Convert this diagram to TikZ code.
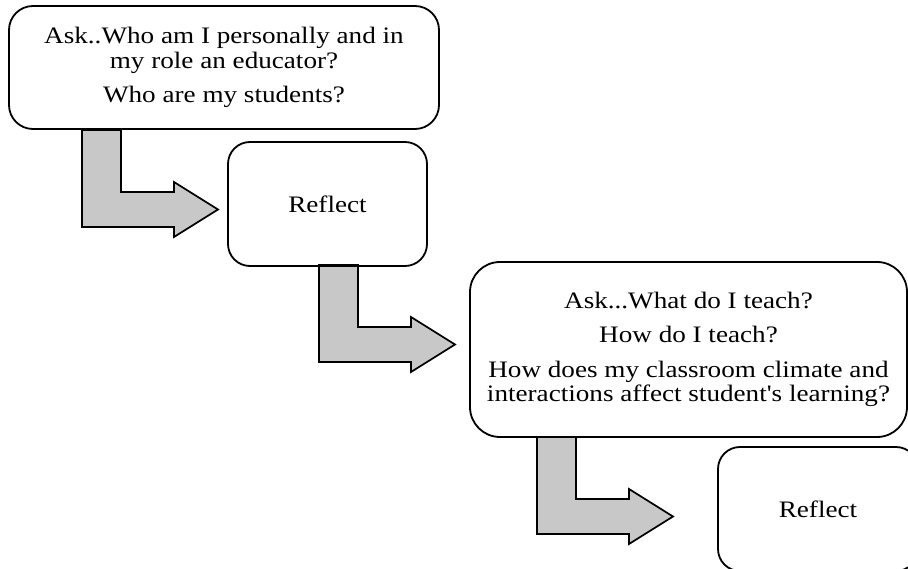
\documentclass[tikz,border=0pt]{standalone}
\usepackage{fontspec}
\setmainfont{Liberation Serif}[FakeStretch=1.15, Ligatures=TeXOff]
\usepackage{xcolor}
\usepackage{tikz}
\usetikzlibrary{positioning,calc}

\definecolor{arrowgray}{RGB}{200,200,200}

\begin{document}
\begin{tikzpicture}[x=1pt, y=-1pt,
    box/.style={rectangle, draw, line width=1.8pt, rounded corners=24pt, align=center,
        inner sep=0pt, font=\fontsize{23.6}{24.5}\selectfont},
    elbow/.pic={
        \draw[line width=1.7pt, fill=arrowgray, line join=miter]
            (0,0) -- (39,0) -- (39,62) -- (92,62) -- (92,52) -- (136,79.5)
            -- (92,107) -- (92,97) -- (0,97) -- cycle;
    }]

    \useasboundingbox (0,0) rectangle (908,569);
    \clip (0,0) rectangle (908,569);

    % arrows first, boxes on top
    \pic at (82,130) {elbow};
    \pic at (319,265) {elbow};
    \pic at (537,437) {elbow};

    \node[box, minimum width=430pt, minimum height=123pt] (who) at (224,67.5)
        {Ask..Who am I personally and in\\ my role an educator?\\[10pt] Who are my students?};
    \node[box, minimum width=199pt, minimum height=124pt, rounded corners=22pt] (reflA) at (327.5,204) {Reflect};
    \node[box, minimum width=437pt, minimum height=175pt, rounded corners=30pt] (what) at (688.5,349.5)
        {Ask...What do I teach?\\[10pt] How do I teach?\\[10pt] How does my classroom climate and\\ interactions affect student's learning?};
    \node[box, minimum width=200pt, minimum height=124pt, rounded corners=22pt] (reflB) at (818,509) {Reflect};
\end{tikzpicture}
\end{document}
